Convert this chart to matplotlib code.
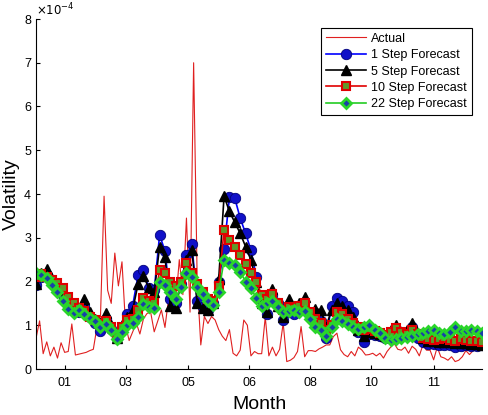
import numpy as np
import matplotlib
matplotlib.use("Agg")
import matplotlib.pyplot as plt

plt.rcParams['font.family'] = ['Liberation Sans', 'DejaVu Sans']

# values are in units of 1e-4
day_actual = np.arange(0, 250, 2)
actual = [0.70, 1.10, 0.35, 0.62, 0.30, 0.50, 0.25, 0.60, 0.38, 0.40,
          1.03, 0.32, 0.34, 0.36, 0.38, 0.42, 0.45, 0.95, 1.20, 3.95,
          1.80, 1.50, 2.65, 1.90, 2.45, 1.00, 0.65, 0.85, 1.05, 0.80,
          1.15, 1.27, 1.30, 0.85, 1.10, 1.35, 0.95, 1.60, 2.00, 1.50,
          2.50, 1.70, 3.45, 1.30, 7.00, 2.00, 0.55, 1.20, 1.04, 1.20,
          1.12, 0.90, 0.75, 0.65, 0.90, 0.36, 0.30, 0.43, 1.12, 1.00,
          0.30, 0.40, 0.35, 0.35, 1.19, 0.30, 0.50, 0.30, 0.45, 1.05,
          0.17, 0.20, 0.26, 0.40, 0.97, 0.28, 0.42, 0.42, 0.40, 0.46,
          0.50, 0.55, 0.55, 0.74, 0.82, 0.44, 0.33, 0.28, 0.40, 0.30,
          0.50, 0.43, 0.32, 0.33, 0.36, 0.30, 0.36, 0.25, 0.40, 0.50,
          0.58, 0.45, 0.43, 0.50, 0.36, 0.52, 0.45, 0.30, 0.55, 0.43,
          0.43, 0.21, 0.50, 0.28, 0.25, 0.20, 0.28, 0.17, 0.20, 0.28,
          0.42, 0.33, 0.42, 0.52, 0.60]

day_fc = np.arange(0, 250, 3)
step1 = [1.92, 2.10, 2.15, 1.98, 1.88, 1.70, 1.50, 1.35, 1.30, 1.45,
         1.20, 1.05, 0.88, 1.15, 0.92, 0.70, 0.95, 1.25, 1.45, 2.15,
         2.26, 1.85, 1.80, 3.06, 2.70, 1.60, 1.50, 1.95, 2.60, 2.85,
         1.55, 1.42, 1.35, 1.50, 2.00, 2.75, 3.92, 3.90, 3.45, 3.10,
         2.72, 2.10, 1.55, 1.25, 1.70, 1.50, 1.12, 1.30, 1.25, 1.40,
         1.35, 1.20, 1.15, 1.10, 0.70, 1.45, 1.62, 1.55, 1.45, 1.30,
         0.85, 0.62, 0.80, 0.78, 0.75, 0.70, 0.85, 0.92, 0.80, 0.85,
         0.95, 0.72, 0.62, 0.58, 0.57, 0.55, 0.55, 0.55, 0.50, 0.52,
         0.55, 0.53, 0.52, 0.55]
step5 = [1.95, 2.20, 2.28, 2.05, 1.93, 1.80, 1.62, 1.43, 1.35, 1.60,
         1.30, 1.15, 1.05, 1.27, 1.00, 0.72, 1.00, 1.20, 1.35, 1.95,
         2.12, 1.85, 1.75, 2.80, 2.55, 1.45, 1.40, 2.00, 2.50, 2.73,
         1.50, 1.40, 1.36, 1.50, 2.05, 3.95, 3.60, 3.35, 3.10, 2.80,
         2.49, 2.00, 1.50, 1.30, 1.84, 1.45, 1.20, 1.60, 1.40, 1.50,
         1.65, 1.30, 1.38, 1.35, 0.97, 1.35, 1.50, 1.45, 1.35, 1.20,
         0.90, 0.75, 0.85, 0.82, 0.80, 0.75, 0.90, 1.00, 0.85, 0.90,
         1.05, 0.80, 0.70, 0.63, 0.63, 0.62, 0.62, 0.62, 0.60, 0.60,
         0.60, 0.58, 0.57, 0.55]
step10 = [2.10, 2.18, 2.10, 2.03, 1.97, 1.85, 1.65, 1.50, 1.40, 1.32,
          1.20, 1.12, 1.02, 1.10, 0.95, 0.78, 0.95, 1.12, 1.15, 1.35,
          1.63, 1.55, 1.50, 2.26, 2.20, 2.00, 1.90, 2.00, 2.42, 2.20,
          1.95, 1.75, 1.60, 1.55, 1.90, 3.18, 2.95, 2.78, 2.60, 2.40,
          2.20, 1.98, 1.70, 1.60, 1.72, 1.50, 1.35, 1.42, 1.40, 1.45,
          1.50, 1.30, 1.15, 1.05, 0.90, 1.00, 1.30, 1.25, 1.15, 1.05,
          0.95, 0.90, 0.92, 0.88, 0.82, 0.78, 0.85, 0.93, 0.85, 0.80,
          0.90, 0.80, 0.72, 0.68, 0.66, 0.68, 0.70, 0.66, 0.65, 0.68,
          0.66, 0.65, 0.63, 0.62]
step22 = [2.19, 2.15, 2.08, 1.92, 1.75, 1.55, 1.38, 1.27, 1.35, 1.25,
          1.16, 1.10, 0.97, 1.04, 0.90, 0.68, 0.85, 1.00, 1.05, 1.20,
          1.48, 1.42, 1.40, 2.00, 1.92, 1.75, 1.60, 1.88, 2.20, 2.10,
          1.88, 1.72, 1.55, 1.46, 1.75, 2.49, 2.42, 2.38, 2.22, 2.00,
          1.85, 1.62, 1.45, 1.50, 1.55, 1.42, 1.30, 1.33, 1.35, 1.30,
          1.32, 1.15, 0.97, 0.90, 0.76, 0.97, 1.14, 1.10, 1.04, 0.97,
          0.92, 0.97, 1.00, 0.89, 0.82, 0.72, 0.66, 0.68, 0.70, 0.73,
          0.76, 0.80, 0.83, 0.87, 0.89, 0.83, 0.80, 0.84, 0.97, 0.88,
          0.86, 0.90, 0.87, 0.83]

tick_pos = [16, 50, 85, 119, 153, 187, 222]
tick_labels = ['01', '03', '05', '06', '08', '10', '11']

fig = plt.figure(figsize=(4.89, 4.15), dpi=100)
ax = fig.add_axes([36 / 489, 46 / 415, 446 / 489, 350 / 415])

ax.plot(day_actual, actual, color='#e02020', lw=0.8, label='Actual')
ax.plot(day_fc, step1, color='blue', lw=1.2, marker='o', ms=7.5,
        mfc='#1010c8', mec='#00007a', mew=0.6, label='1 Step Forecast')
ax.plot(day_fc, step5, color='black', lw=1.2, marker='^', ms=7.5,
        mfc='black', mec='black', label='5 Step Forecast')
ax.plot(day_fc, step10, color='#e00000', lw=1.2, marker='s', ms=5.5,
        mfc='#5f9a2a', mec='#e00000', mew=1.5, label='10 Step Forecast')
ax.plot(day_fc, step22, color='#22cc22', lw=1.2, marker='D', ms=5.5,
        mfc='#1840a8', mec='#2ad52a', mew=2.0, label='22 Step Forecast')

ax.set_xlim(0, 249)
ax.set_ylim(0, 8)
ax.set_yticks(range(9))
ax.set_xticks(tick_pos)
ax.set_xticklabels(tick_labels)
ax.tick_params(direction='in', length=3, labelsize=9, width=0.8)
ax.tick_params(axis='x', pad=6)
ax.spines['top'].set_visible(False)
ax.spines['right'].set_visible(False)
ax.text(0.0, 1.003, r'$\times10^{-4}$', transform=ax.transAxes,
        fontsize=8.5, ha='left', va='bottom')

ax.set_xlabel('Month', fontsize=14, labelpad=5)
ax.set_ylabel('Volatility', fontsize=14, labelpad=3)

leg = ax.legend(loc='upper right', bbox_to_anchor=(0.978, 0.975),
                borderaxespad=0, fancybox=False, fontsize=9,
                handlelength=3.2, handletextpad=0.4, labelspacing=0.35,
                borderpad=0.4, framealpha=1)
leg.get_frame().set_edgecolor('black')
leg.get_frame().set_linewidth(0.8)

fig.savefig('out.png', dpi=100)
